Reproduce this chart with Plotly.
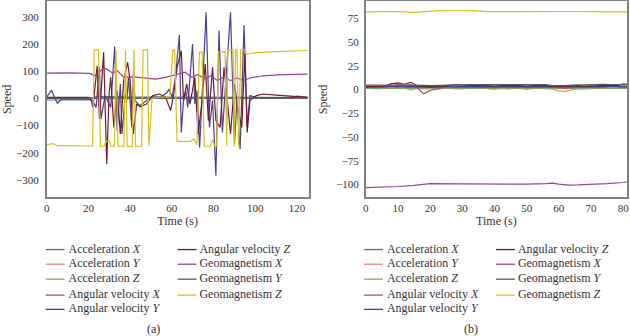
import plotly.graph_objects as go

W, H = 630, 336
FONT = "Liberation Serif"

names = ["Acceleration <i>X</i>", "Acceleration <i>Y</i>", "Acceleration <i>Z</i>",
         "Angular velocity <i>X</i>", "Angular velocity <i>Y</i>", "Angular velocity <i>Z</i>",
         "Geomagnetism <i>X</i>", "Geomagnetism <i>Y</i>", "Geomagnetism <i>Z</i>"]
colors = ["#4a6fa5", "#f4886a", "#7fa86a", "#a8545e", "#4b3f92",
          "#6e1a2a", "#a0409a", "#5a5a5a", "#d4c21e"]

# ---------------- panel (a) data ----------------
a_accx_t = [0, 20, 22, 24, 40, 60, 80, 100, 125]
a_accx_v = [-6, -6, 0, 7, 5, 4, 3, 3, 3]
a_accy_t = [0, 30, 60, 90, 125]
a_accy_v = [0, -1, 0, 1, 0]
a_accz_t = [0, 30, 60, 90, 125]
a_accz_v = [1, 0, 1, 0, 1]
a_angx_t = [0, 20, 40, 60, 80, 100, 125]
a_angx_v = [2, 1, 0, 1, 0, 2, 1]
a_angy_t = [0, 2.3, 5.1, 7.4, 10, 20, 22, 23.7, 25.3, 26, 28, 30.7, 32.6, 33.8, 35.3, 36.1,
            37.7, 38.4, 39.2, 40.8, 41.6, 42.3, 44.7, 47.8, 50, 55, 57.8, 58.6, 60.2, 61.7,
            63.6, 64.5, 65.6, 66.7, 67.6, 69.9, 71, 72.1, 73.3, 74.4, 76.4, 78, 79.5, 81.1,
            82.6, 84.2, 85.7, 88.1, 90, 91.2, 92.7, 94.6, 96.1, 97.4, 100, 110, 118, 120, 125]
a_angy_v = [4, 30, -18, -2, -3, -3, -8, -33, 114, -76, 10, -33, 191, -119, 53, -131,
            16, -8, 77, -107, 96, -8, -27, -8, 5, 5, 22, 34, 4, 77,
            233, -125, -8, 28, -33, 200, -21, 28, -180, -8, 316, -107, -8, -284,
            249, -125, 53, 316, -168, -8, -186, 270, -107, 10, 4, 4, 3, 8, 4]
a_angz_t = [0, 10, 20, 21.4, 22.2, 24.2, 25.3, 27.3, 28.8, 29.9, 30.7, 32.2, 33.8, 35.3,
            36.9, 38.8, 40, 41.6, 43.1, 44.7, 47.8, 50.9, 54, 57, 58.6, 59.4, 60.9, 62.5,
            64.5, 65.6, 67.1, 68.7, 71, 72.6, 74.1, 76, 77.5, 79.5, 81.1, 83.1, 85, 86.5,
            88.1, 90, 91.5, 93.5, 95, 96.1, 97.4, 100.5, 103.6, 109.8, 125]
a_angz_v = [4, 5, 4, -9, -33, 120, -76, 169, -241, 16, 77, -107, 28, -131,
            65, 132, 65, -131, -21, -31, -21, 10, 16, 4, -33, -45, 16, 114,
            175, -8, 53, -21, 77, -131, -33, 126, -82, 114, -82, -107, 114, 4,
            -131, 53, -33, -107, 163, -125, -8, 10, 16, 12, 4]
a_geox_t = [0, 10, 20, 21.4, 22.9, 25, 27.6, 29.5, 31.5, 33.8, 36.9, 41.6, 47.8, 52.4, 57,
            60.2, 63.3, 66.4, 69.5, 72.6, 75.7, 78.8, 81.9, 85, 88, 91.2, 94.3, 97.4,
            103.6, 113, 125]
a_geox_v = [93, 94, 92, 90, 83, 95, 112, 104, 93, 102, 78, 79, 74, 71, 77,
            83, 90, 96, 77, 88, 71, 83, 65, 80, 65, 75, 65, 75,
            83, 87, 89]
a_geoy_t = [0, 40, 80, 125]
a_geoy_v = [0, 1, 0, 1]
a_geoz_t = [0, 3, 5, 22, 22.8, 24.8, 25.8, 27.5, 28.5, 30, 30.8, 32.5, 33.2, 34.2, 37,
            37.8, 38.6, 41, 41.8, 42.6, 45.5, 46.2, 48.3, 49, 50.5, 55, 59, 60.5, 61.3,
            62.5, 69, 70.5, 72, 73.2, 74.5, 75.5, 78.5, 79.5, 80.5, 81.5, 82.3, 85.5,
            86.3, 86.8, 89.3, 89.9, 90.5, 91.2, 92, 93, 95, 95.8, 97, 100, 110, 125]
a_geoz_v = [-170, -166, -174, -175, 178, 178, -176, -176, -158, -155, -176, -176, 178, -176, -176,
            178, -176, -178, 178, -176, -176, 178, 178, -176, 0, 5, 5, 178, 178,
            -158, -158, -148, -170, 170, 170, -176, -176, -150, -176, -176, 170, 172,
            -176, 178, 178, -176, 178, 178, -176, 178, 178, 163, 165, 168, 172, 176]

# ---------------- panel (b) data ----------------
b_accx_t = [0, 20, 40, 60, 82]
b_accx_v = [2.2, 2.0, 2.1, 2.0, 2.1]
b_grid = [0, 2, 4, 6, 8, 10, 12, 14, 16, 18, 20, 22, 24, 26, 28, 30, 32, 34, 36, 38, 40,
          42, 44, 46, 48, 50, 52, 54, 56, 58, 60, 62, 64, 66, 68, 70, 72, 74, 76, 78, 80, 82]
b_accy_v = [1.5, 1.0, 0.5, 1.5, 2.5, 3.0, 1.5, -0.5, 1.0, 0.5, 1.0, 0.0, 1.0, 1.5, 0.5, 0.5,
            1.5, 1.0, 1.5, 0.5, 0.0, 1.0, 0.5, 1.0, 1.0, 0.0, 1.0, 1.0, 0.5, 0.5, -1.5, -2.0,
            -0.5, 0.5, 0.5, 1.0, 1.0, 1.5, 2.0, 2.5, 4.0, 3.5]
b_accz_t = [0, 20, 40, 60, 82]
b_accz_v = [1.2, 1.2, 1.1, 1.2, 1.2]
b_angx_v = [2.5, 2.0, 2.5, 3.0, 6.5, 5.5, 4.0, 5.0, 1.5, -4.5, -1.0, 0.5, 2.0, 3.5, 3.0, 2.5,
            3.0, 2.5, 2.0, 2.5, 3.0, 2.5, 2.0, 2.5, 3.0, 2.5, 2.0, 2.5, 3.0, 2.5, 2.0, 1.5,
            2.0, 2.5, 3.0, 2.5, 2.0, 2.5, 3.0, 4.0, 6.0, 5.0]
b_angy_t = [0, 20, 40, 60, 82]
b_angy_v = [3.0, 2.8, 3.0, 2.9, 3.1]
b_angz_v = [3.0, 3.0, 3.0, 3.5, 6.0, 7.0, 5.5, 7.5, 4.0, 3.0, 2.5, 3.0, 3.5, 4.5, 5.0, 4.5,
            4.0, 4.0, 4.5, 4.0, 3.5, 4.0, 4.0, 4.5, 4.0, 3.5, 4.0, 4.5, 4.0, 3.5, 3.0, 3.5,
            4.0, 4.0, 3.5, 3.5, 4.0, 4.5, 4.0, 4.0, 5.5, 5.0]
b_geox_t = [0, 5, 10, 15, 20, 30, 40, 50, 56, 58, 60, 63, 66, 70, 75, 80, 82]
b_geox_v = [-103.3, -103.0, -102.0, -100.8, -99.0, -99.2, -99.5, -99.6, -99.0, -98.4,
            -99.5, -100.5, -100.3, -100.0, -99.0, -97.8, -96.8]
b_geoy_v = [4.5, 4.5, 4.3, 4.8, 5.0, 4.8, 4.5, 4.5, 4.5, 4.3, 4.0, 4.2, 4.5, 5.0, 5.2, 5.0,
            5.0, 5.0, 5.0, 4.8, 4.8, 4.8, 4.8, 4.8, 5.0, 5.0, 5.0, 5.2, 5.0, 4.0, 3.8, 4.0,
            4.5, 4.8, 4.8, 5.0, 5.2, 5.5, 5.0, 5.0, 5.0, 5.2]
b_geoz_t = [0, 5, 10, 15, 18, 23, 28, 34, 38, 45, 55, 65, 75, 82]
b_geoz_v = [81.5, 82.0, 82.0, 81.0, 81.8, 83.0, 82.8, 83.0, 81.8, 82.0, 82.0, 82.0, 81.6, 81.5]

panel_a = [(a_accx_t, a_accx_v), (a_accy_t, a_accy_v), (a_accz_t, a_accz_v),
           (a_angx_t, a_angx_v), (a_angy_t, a_angy_v), (a_angz_t, a_angz_v),
           (a_geox_t, a_geox_v), (a_geoy_t, a_geoy_v), (a_geoz_t, a_geoz_v)]
panel_b = [(b_accx_t, b_accx_v), (b_grid, b_accy_v), (b_accz_t, b_accz_v),
           (b_grid, b_angx_v), (b_angy_t, b_angy_v), (b_grid, b_angz_v),
           (b_geox_t, b_geox_v), (b_grid, b_geoy_v), (b_geoz_t, b_geoz_v)]

fig = go.Figure()
for i, (t, v) in enumerate(panel_a):
    fig.add_trace(go.Scatter(x=t, y=v, mode="lines", name=names[i], showlegend=False,
                             line=dict(color=colors[i], width=1.2), xaxis="x", yaxis="y"))
for i, (t, v) in enumerate(panel_b):
    fig.add_trace(go.Scatter(x=t, y=v, mode="lines", name=names[i], showlegend=False,
                             line=dict(color=colors[i], width=1.2), xaxis="x2", yaxis="y2"))

axis_common = dict(showline=True, mirror=True, linecolor="#808080", linewidth=1.5,
                   showgrid=False, zeroline=False, ticks="", ticklabeloverflow="allow",
                   tickfont=dict(family=FONT, size=11, color="#333"))
ydom = [1 - 197 / H, 1 - 0.5 / H]
fig.update_layout(
    width=W, height=H, margin=dict(l=0, r=0, t=0, b=0),
    paper_bgcolor="white", plot_bgcolor="rgba(0,0,0,0)",
    font=dict(family=FONT, color="#333"),
    xaxis=dict(domain=[44 / W, 308 / W], range=[0, 125.5], tickvals=[0, 20, 40, 60, 80, 100, 120],
               title=dict(text="Time (s)", font=dict(family=FONT, size=12, color="#333"), standoff=2),
               anchor="y", **axis_common),
    yaxis=dict(domain=ydom, range=[-364, 356], tickvals=[-300, -200, -100, 0, 100, 200, 300],
               title=dict(text="Speed", font=dict(family=FONT, size=12, color="#333"), standoff=6),
               ticklabelstandoff=4, anchor="x", **axis_common),
    xaxis2=dict(domain=[365.7 / W, 629 / W], range=[0, 81.2], tickvals=list(range(0, 81, 10)),
                title=dict(text="Time (s)", font=dict(family=FONT, size=12, color="#333"), standoff=2),
                anchor="y2", **axis_common),
    yaxis2=dict(domain=ydom, range=[-113.5, 92.5], tickvals=[-100, -75, -50, -25, 0, 25, 50, 75],
                title=dict(text="Speed", font=dict(family=FONT, size=12, color="#333"), standoff=6),
                ticklabelstandoff=3, anchor="x2", **axis_common),
    # invisible full-page pixel frame used only for legend labels
    xaxis3=dict(domain=[0, 1], range=[0, W], visible=False, anchor="y3", fixedrange=True),
    yaxis3=dict(domain=[0, 1], range=[H, 0], visible=False, anchor="x3", fixedrange=True),
)

# manual two-column legends under each panel
rows = [249.3, 264, 279, 295, 309.3]
legend_cols = {
    "a": [(43, 62, 69), (176, 195, 201)],
    "b": [(364, 383, 390), (497, 516, 522)],
}
lab_x, lab_y, lab_t = [], [], []
for key in ["a", "b"]:
    cols = legend_cols[key]
    for i, nm in enumerate(names):
        c = 0 if i < 5 else 1
        r = i if i < 5 else i - 5
        x0, x1, xt = cols[c]
        yy = 1 - rows[r] / H
        fig.add_shape(type="line", xref="paper", yref="paper", x0=x0 / W, x1=x1 / W, y0=yy, y1=yy,
                      line=dict(color=colors[i], width=1.3))
        lab_x.append(xt - 3)
        lab_y.append(rows[r])
        lab_t.append(nm)

fig.add_trace(go.Scatter(x=lab_x, y=lab_y, text=lab_t, mode="text", textposition="middle right",
                         textfont=dict(family=FONT, size=12, color="#333"), cliponaxis=False,
                         hoverinfo="skip", showlegend=False, xaxis="x3", yaxis="y3"))

fig.add_annotation(xref="paper", yref="paper", x=152 / W, y=1 - 329 / H, text="(a)", showarrow=False,
                   xanchor="center", yanchor="middle", borderpad=0,
                   font=dict(family=FONT, size=12, color="#333"))
fig.add_annotation(xref="paper", yref="paper", x=472 / W, y=1 - 329 / H, text="(b)", showarrow=False,
                   xanchor="center", yanchor="middle", borderpad=0,
                   font=dict(family=FONT, size=12, color="#333"))

fig.write_html("out.html", config={"displayModeBar": False},
               post_script="document.body.style.margin='0';document.body.style.overflow='hidden';")
